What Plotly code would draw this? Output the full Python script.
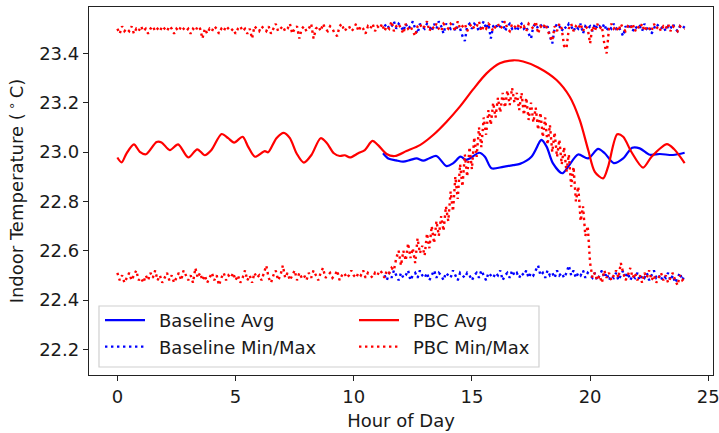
import numpy as np
import plotly.graph_objects as go

# ---------------- data ----------------
# Averages: key points (hour, temperature)
pbc_avg_x = [0.0, 0.18, 0.39, 0.70, 0.95, 1.21, 1.66, 1.87, 2.22, 2.57, 3.0, 3.38, 3.70, 3.98,
             4.41, 4.69, 4.94, 5.30, 5.53, 5.82, 6.24, 6.38, 6.73, 7.04, 7.30, 7.58, 7.89, 8.21,
             8.60, 8.85, 9.16, 9.41, 9.62, 9.84, 10.19, 10.47, 10.79, 11.03, 11.39, 11.74, 12.23,
             12.80, 13.36, 13.93, 14.49, 15.05, 15.62, 16.18, 16.75, 17.17, 17.80, 18.58, 19.14,
             19.56, 19.92, 20.20, 20.55, 20.76, 21.15, 21.40, 21.75, 22.24, 22.60, 23.25, 23.55, 24.0]
pbc_avg_y = [22.978, 22.958, 22.995, 23.031, 23.001, 22.991, 23.041, 23.039, 23.008, 23.031, 22.978,
             23.011, 22.987, 23.008, 23.073, 23.056, 23.038, 23.062, 23.022, 22.981, 23.004, 22.999,
             23.056, 23.078, 23.056, 22.995, 22.957, 22.988, 23.056, 23.038, 22.995, 22.984, 22.987,
             22.978, 22.995, 23.008, 23.045, 23.028, 22.992, 22.984, 23.004, 23.028, 23.069, 23.123,
             23.184, 23.254, 23.319, 23.360, 23.372, 23.367, 23.343, 23.292, 23.224, 23.130, 23.008,
             22.920, 22.893, 22.940, 23.072, 23.062, 23.000, 22.937, 22.981, 23.032, 23.012, 22.955]

base_avg_x = [11.24, 11.46, 11.8, 12.09, 12.4, 12.66, 12.94, 13.2, 13.50, 13.93, 14.20, 14.52, 14.74,
              14.91, 15.31, 15.55, 15.83, 16.32, 16.74, 17.03, 17.52, 17.87, 17.94, 18.16, 18.43,
              18.82, 19.07, 19.49, 19.92, 20.34, 20.62, 21.00, 21.40, 21.78, 22.10, 22.53, 22.95,
              23.51, 24.00]
base_avg_y = [22.995, 22.974, 22.966, 22.961, 22.968, 22.974, 22.965, 22.975, 22.984, 22.943, 22.954,
              22.981, 22.968, 22.974, 22.997, 22.981, 22.934, 22.940, 22.947, 22.952, 22.981, 23.042,
              23.049, 23.022, 22.954, 22.914, 22.940, 22.990, 22.974, 23.013, 22.995, 22.955, 22.974,
              23.017, 23.015, 22.989, 22.992, 22.988, 22.997]

# Min / Max every 0.1 h
pbc_hours = np.round(np.arange(241) * 0.1, 1)
pbc_max = [
    23.50, 23.48, 23.51, 23.49, 23.50, 23.49, 23.51, 23.48, 23.50, 23.49,
    23.51, 23.49, 23.50, 23.48, 23.50, 23.51, 23.49, 23.50, 23.49, 23.51,
    23.50, 23.49, 23.51, 23.50, 23.48, 23.50, 23.49, 23.51, 23.50, 23.49,
    23.50, 23.48, 23.50, 23.49, 23.51, 23.50, 23.46, 23.50, 23.48, 23.50,
    23.49, 23.51, 23.50, 23.48, 23.50, 23.49, 23.51, 23.50, 23.49, 23.50,
    23.48, 23.50, 23.51, 23.49, 23.50, 23.48, 23.50, 23.46, 23.51, 23.50,
    23.49, 23.51, 23.50, 23.49, 23.51, 23.48, 23.50, 23.52, 23.49, 23.50,
    23.51, 23.49, 23.50, 23.52, 23.48, 23.50, 23.51, 23.46, 23.50, 23.51,
    23.49, 23.50, 23.52, 23.46, 23.50, 23.51, 23.49, 23.52, 23.50, 23.49,
    23.51, 23.50, 23.48, 23.47, 23.51, 23.52, 23.49, 23.50, 23.51, 23.49,
    23.50, 23.52, 23.49, 23.51, 23.50, 23.48, 23.51, 23.50, 23.52, 23.49,
    23.51, 23.50, 23.52, 23.49, 23.51, 23.50, 23.53, 23.49, 23.51, 23.52,
    23.50, 23.48, 23.52, 23.50, 23.51, 23.49, 23.47, 23.51, 23.52, 23.50,
    23.51, 23.53, 23.49, 23.51, 23.50, 23.52, 23.50, 23.49, 23.52, 23.51,
    23.50, 23.52, 23.51, 23.49, 23.53, 23.50, 23.51, 23.52, 23.49, 23.51,
    23.52, 23.50, 23.51, 23.53, 23.49, 23.51, 23.50, 23.52, 23.51, 23.49,
    23.51, 23.52, 23.50, 23.51, 23.53, 23.50, 23.49, 23.52, 23.51, 23.50,
    23.52, 23.50, 23.51, 23.49, 23.52, 23.51, 23.50, 23.53, 23.48, 23.51,
    23.50, 23.52, 23.49, 23.47, 23.45, 23.51, 23.49, 23.52, 23.50, 23.43,
    23.42, 23.50, 23.52, 23.49, 23.51, 23.50, 23.52, 23.49, 23.51, 23.50,
    23.44, 23.51, 23.49, 23.52, 23.50, 23.51, 23.44, 23.40, 23.50, 23.52,
    23.50, 23.51, 23.49, 23.52, 23.50, 23.49, 23.51, 23.50, 23.52, 23.49,
    23.51, 23.50, 23.52, 23.49, 23.51, 23.50, 23.49, 23.52, 23.50, 23.51,
    23.49, 23.51, 23.50, 23.52, 23.49, 23.51, 23.50, 23.49, 23.51, 23.50,
    23.50]
pbc_min = [
    22.51, 22.48, 22.50, 22.47, 22.49, 22.51, 22.48, 22.50, 22.52, 22.48,
    22.49, 22.47, 22.50, 22.48, 22.51, 22.49, 22.52, 22.48, 22.50, 22.47,
    22.49, 22.51, 22.48, 22.50, 22.47, 22.49, 22.51, 22.48, 22.52, 22.50,
    22.48, 22.50, 22.47, 22.53, 22.49, 22.51, 22.48, 22.50, 22.47, 22.49,
    22.51, 22.48, 22.50, 22.46, 22.49, 22.51, 22.48, 22.50, 22.49, 22.51,
    22.48, 22.50, 22.47, 22.49, 22.52, 22.48, 22.50, 22.47, 22.51, 22.49,
    22.50, 22.48, 22.51, 22.54, 22.49, 22.47, 22.50, 22.52, 22.48, 22.50,
    22.54, 22.49, 22.51, 22.48, 22.50, 22.52, 22.48, 22.51, 22.49, 22.50,
    22.48, 22.51, 22.49, 22.52, 22.50, 22.48, 22.51, 22.53, 22.49, 22.50,
    22.51, 22.49, 22.50, 22.52, 22.48, 22.50, 22.51, 22.49, 22.50, 22.52,
    22.50, 22.49, 22.51, 22.50, 22.52, 22.49, 22.51, 22.50, 22.49, 22.51,
    22.50, 22.52, 22.51, 22.49, 22.52, 22.51, 22.53, 22.52, 22.57, 22.60,
    22.54, 22.60, 22.56, 22.63, 22.57, 22.61, 22.55, 22.65, 22.59, 22.62,
    22.58, 22.67, 22.61, 22.70, 22.63, 22.72, 22.66, 22.74, 22.68, 22.78,
    22.72, 22.84, 22.76, 22.90, 22.81, 22.95, 22.86, 22.99, 22.90, 23.02,
    22.93, 23.06, 22.98, 23.10, 23.02, 23.14, 23.07, 23.17, 23.11, 23.20,
    23.14, 23.22, 23.16, 23.24, 23.18, 23.25, 23.19, 23.26, 23.20, 23.24,
    23.17, 23.24, 23.15, 23.22, 23.13, 23.20, 23.12, 23.18, 23.09, 23.16,
    23.06, 23.14, 23.03, 23.11, 23.00, 23.08, 22.98, 23.05, 22.95, 23.02,
    22.92, 22.99, 22.86, 22.94, 22.80, 22.86, 22.72, 22.78, 22.66, 22.70,
    22.55, 22.49, 22.51, 22.48, 22.50, 22.47, 22.52, 22.49, 22.51, 22.48,
    22.50, 22.52, 22.49, 22.55, 22.51, 22.48, 22.50, 22.53, 22.49, 22.51,
    22.48, 22.50, 22.47, 22.51, 22.49, 22.52, 22.48, 22.50, 22.47, 22.49,
    22.51, 22.48, 22.50, 22.47, 22.49, 22.51, 22.48, 22.46, 22.50, 22.48,
    22.49]

base_hours = np.round(113 + np.arange(128), 0) / 10.0
base_max = [
    23.51, 23.52, 23.50, 23.51, 23.53, 23.50, 23.52,
    23.51, 23.49, 23.52, 23.50, 23.51, 23.53, 23.50, 23.48, 23.52, 23.51,
    23.50, 23.52, 23.51, 23.49, 23.52, 23.50, 23.53, 23.51, 23.48, 23.52,
    23.51, 23.50, 23.52, 23.49, 23.51, 23.50, 23.47, 23.45, 23.51, 23.52,
    23.50, 23.52, 23.51, 23.49, 23.51, 23.53, 23.50, 23.52, 23.46, 23.51,
    23.52, 23.50, 23.51, 23.53, 23.49, 23.51, 23.52, 23.50, 23.51, 23.49,
    23.51, 23.52, 23.50, 23.51, 23.48, 23.46, 23.51, 23.52, 23.50, 23.51,
    23.52, 23.50, 23.51, 23.47, 23.44, 23.50, 23.52, 23.51, 23.49, 23.51,
    23.50, 23.52, 23.51, 23.49, 23.51, 23.50, 23.52, 23.48, 23.51, 23.50,
    23.51, 23.49, 23.52, 23.50, 23.51, 23.50, 23.52, 23.49, 23.51, 23.50,
    23.52, 23.50, 23.51, 23.49, 23.47, 23.51, 23.50, 23.52, 23.49, 23.51,
    23.50, 23.51, 23.49, 23.52, 23.50, 23.51, 23.48, 23.50, 23.52, 23.51,
    23.50, 23.51, 23.49, 23.51, 23.50, 23.52, 23.50, 23.49, 23.51, 23.50,
    23.51]
base_min = [
    22.50, 22.48, 22.51, 22.49, 22.52, 22.50, 22.48,
    22.51, 22.49, 22.50, 22.52, 22.48, 22.50, 22.51, 22.49, 22.52, 22.50,
    22.49, 22.51, 22.48, 22.50, 22.52, 22.49, 22.51, 22.50, 22.48, 22.51,
    22.50, 22.49, 22.52, 22.50, 22.48, 22.51, 22.50, 22.49, 22.51, 22.50,
    22.48, 22.50, 22.51, 22.49, 22.52, 22.50, 22.48, 22.51, 22.50, 22.49,
    22.51, 22.50, 22.52, 22.48, 22.50, 22.51, 22.49, 22.52, 22.50, 22.51,
    22.49, 22.51, 22.50, 22.52, 22.49, 22.51, 22.50, 22.52, 22.54, 22.50,
    22.51, 22.49, 22.52, 22.50, 22.51, 22.49, 22.52, 22.50, 22.51, 22.49,
    22.51, 22.54, 22.50, 22.52, 22.49, 22.51, 22.50, 22.52, 22.49, 22.51,
    22.50, 22.49, 22.51, 22.48, 22.50, 22.52, 22.49, 22.51, 22.48, 22.50,
    22.49, 22.51, 22.48, 22.50, 22.52, 22.49, 22.51, 22.48, 22.50, 22.49,
    22.51, 22.48, 22.50, 22.49, 22.51, 22.48, 22.50, 22.52, 22.49, 22.50,
    22.48, 22.50, 22.49, 22.51, 22.48, 22.50, 22.47, 22.49, 22.51, 22.48,
    22.50]

x_ticks = [0, 5, 10, 15, 20, 25]
y_ticks = [22.2, 22.4, 22.6, 22.8, 23.0, 23.2, 23.4]
y_tick_labels = ["22.2", "22.4", "22.6", "22.8", "23.0", "23.2", "23.4"]

BLUE = "#0000ff"
RED = "#ff0000"
FONT = "DejaVu Sans"
TXT = "#1a1a1a"
DOT = "2.4px,3.6px"
SP = "\u2002"  # gap between legend sample and text

fig = go.Figure()

# Baseline
fig.add_trace(go.Scatter(x=base_avg_x, y=base_avg_y, mode="lines", name=SP + "Baseline Avg",
                         line=dict(color=BLUE, width=2.2, shape="spline", smoothing=0.8),
                         legend="legend", legendrank=1))
fig.add_trace(go.Scatter(x=base_hours, y=base_max, mode="lines", name=SP + "Baseline Min/Max",
                         line=dict(color=BLUE, width=2.4, dash=DOT),
                         legend="legend", legendgroup="bmm", legendrank=2))
fig.add_trace(go.Scatter(x=base_hours, y=base_min, mode="lines", name=SP + "Baseline Min/Max",
                         line=dict(color=BLUE, width=2.4, dash=DOT),
                         legend="legend", legendgroup="bmm", showlegend=False))
# PBC
fig.add_trace(go.Scatter(x=pbc_avg_x, y=pbc_avg_y, mode="lines", name=SP + "PBC Avg",
                         line=dict(color=RED, width=2.2, shape="spline", smoothing=0.8),
                         legend="legend2", legendrank=1))
fig.add_trace(go.Scatter(x=pbc_hours, y=pbc_max, mode="lines", name=SP + "PBC Min/Max",
                         line=dict(color=RED, width=2.4, dash=DOT),
                         legend="legend2", legendgroup="pmm", legendrank=2))
fig.add_trace(go.Scatter(x=pbc_hours, y=pbc_min, mode="lines", name=SP + "PBC Min/Max",
                         line=dict(color=RED, width=2.4, dash=DOT),
                         legend="legend2", legendgroup="pmm", showlegend=False))

L, R, T, B = 89, 6, 7, 58
W, H = 719, 433
pw, ph = W - L - R, H - T - B

def px_x(p):
    return (p - L) / pw

def px_y(p):
    return (H - B - p) / ph

# legend frame (rectangle)
x0, x1 = px_x(99), px_x(539)
y0, y1 = px_y(367), px_y(306)
fig.add_shape(type="rect", xref="paper", yref="paper", x0=x0, x1=x1, y0=y0, y1=y1,
              line=dict(color="#d0d0d0", width=1.2), fillcolor="rgba(255,255,255,0.8)",
              layer="above")

leg_common = dict(font=dict(family=FONT, size=18, color=TXT), bgcolor="rgba(0,0,0,0)",
                  borderwidth=0, itemwidth=40, yanchor="top", xanchor="left",
                  tracegroupgap=0, traceorder="normal")

fig.update_layout(
    width=W, height=H,
    margin=dict(l=L, r=R, t=T, b=B, pad=0, autoexpand=False),
    paper_bgcolor="white", plot_bgcolor="white",
    font=dict(family=FONT, size=18, color=TXT),
    legend=dict(x=px_x(100), y=px_y(302), **leg_common),
    legend2=dict(x=px_x(354), y=px_y(302), **leg_common),
    xaxis=dict(range=[-1.2, 25.2], tickvals=x_ticks, ticks="outside", ticklen=5,
               tickwidth=1.2, tickcolor="#222", showline=True, linecolor="#222",
               linewidth=1.3, mirror=True, showgrid=False, zeroline=False,
               ticklabeloverflow="allow", automargin=False,
               tickfont=dict(family=FONT, size=18, color=TXT),
               title=dict(text="Hour of Day", font=dict(family=FONT, size=18, color=TXT),
                          standoff=8)),
    yaxis=dict(range=[22.096, 23.588], tickvals=y_ticks, ticktext=y_tick_labels,
               ticks="outside", ticklen=5, tickwidth=1.2, tickcolor="#222",
               showline=True, linecolor="#222", linewidth=1.3, mirror=True,
               showgrid=False, zeroline=False, automargin=False,
               tickfont=dict(family=FONT, size=18, color=TXT),
               title=dict(text="Indoor Temperature (\u2009<sup>\u2218</sup>\u2009C)",
                          font=dict(family=FONT, size=18, color=TXT), standoff=10)),
)

fig.write_html("out.html")
